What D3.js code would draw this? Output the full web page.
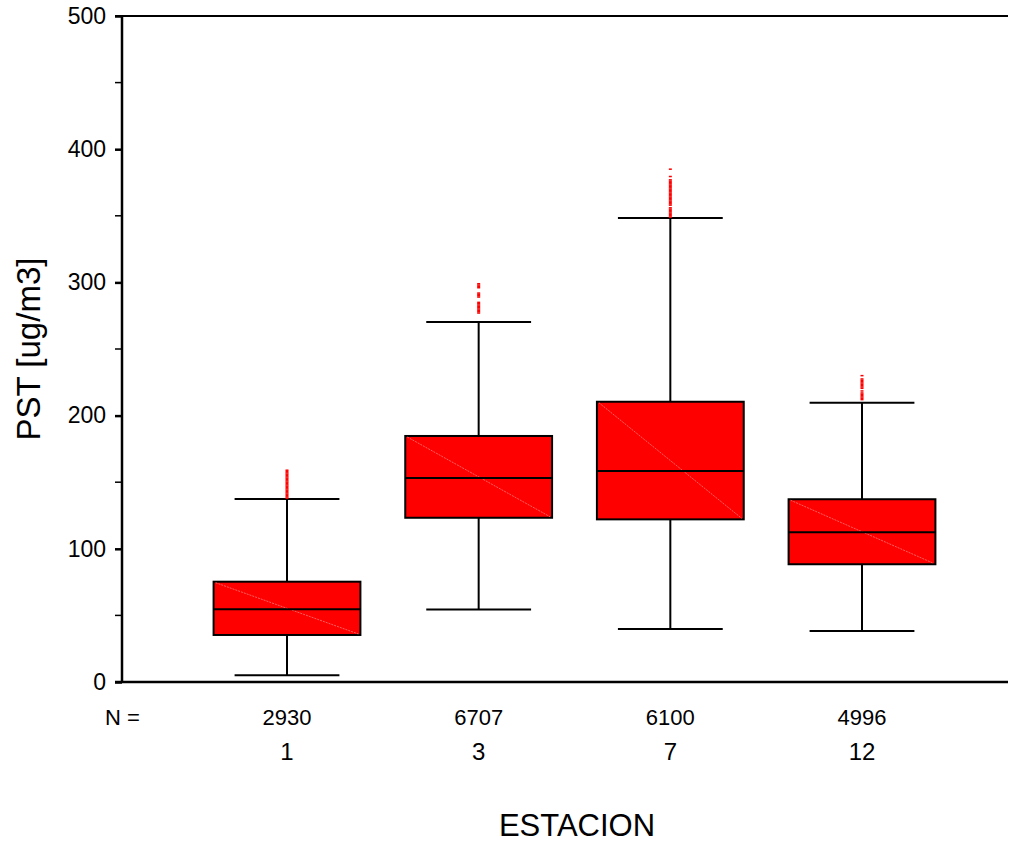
<!DOCTYPE html>
<html>
<head>
<meta charset="utf-8">
<script src="https://cdn.jsdelivr.net/npm/d3@7"></script>
<style>
  html, body { margin: 0; padding: 0; background: #fff; }
  svg { display: block; font-family: "Liberation Sans", Arial, sans-serif; }
</style>
</head>
<body>
<svg id="chart" width="1011" height="846"></svg>
<script>
// Stations and sample counts
const stations = ["1", "3", "7", "12"];
const counts = [2930, 6707, 6100, 4996];

// Box statistics per station (ug/m3)
const whiskerLow  = [5.0, 54.5, 39.8, 38.3];
const q1          = [35.3, 123.3, 122.1, 88.4];
const median      = [54.6, 153.2, 158.4, 112.4];
const q3          = [75.3, 184.7, 210.4, 137.2];
const whiskerHigh = [137.4, 270.3, 348.3, 209.7];

// Outlying observations above the upper whisker
const outliers1 = [138, 139, 140, 141, 142, 143, 144, 145, 146, 147, 148, 149, 150, 151, 152, 153, 154, 155, 156, 157, 158, 159];
const outliers3 = [277, 278, 279, 280, 281, 282, 283, 284, 285, 289, 290, 291, 292, 296, 297, 298, 299];
const outliers7 = [349, 350, 351, 352, 353, 354, 355, 356, 358, 359, 360, 361, 362, 363, 364, 365, 366, 367, 368, 369, 370, 371, 372, 373, 374, 375, 376, 377, 379.5, 385];
const outliers12 = [212, 213, 214, 215, 216, 217, 218.5, 220.5, 221.5, 222.5, 223.5, 224.5, 225.5, 226.5, 227.5, 230];
const outliers = [outliers1, outliers3, outliers7, outliers12];

const yTicks = [0, 100, 200, 300, 400, 500];
const yMinor = [50, 150, 250, 350, 450];

const svg = d3.select("#chart");

const plotLeft = 122, plotRight = 1008, plotTop = 16, plotBottom = 682;

const y = d3.scaleLinear().domain([0, 500]).range([plotBottom, plotTop]);
const x = d3.scalePoint().domain(stations).range([287, 862]);
const boxW = x.step() * 0.766;
const capW = boxW * 0.714;

const data = stations.map((s, i) => ({
  s, n: counts[i], lo: whiskerLow[i], q1: q1[i], med: median[i],
  q3: q3[i], hi: whiskerHigh[i], out: outliers[i]
}));

// Frame lines: top and bottom
svg.append("line").attr("x1", plotLeft - 7).attr("x2", plotRight)
  .attr("y1", plotTop).attr("y2", plotTop).attr("stroke", "#000").attr("stroke-width", 2);
svg.append("line").attr("x1", plotLeft - 7).attr("x2", plotRight)
  .attr("y1", plotBottom).attr("y2", plotBottom).attr("stroke", "#000").attr("stroke-width", 2.5);

// Left axis
const yAxis = d3.axisLeft(y).tickValues(yTicks).tickSize(7).tickPadding(9);
const gAxis = svg.append("g").attr("transform", `translate(${plotLeft},0)`).call(yAxis);
gAxis.attr("font-size", null).attr("font-family", null);
gAxis.select(".domain").attr("stroke-width", 2.5).attr("d", `M0,${plotTop}V${plotBottom}`);
gAxis.selectAll(".tick line").attr("stroke-width", 2.5);
gAxis.selectAll(".tick text").attr("font-size", 23).attr("fill", "#000");
svg.append("g").selectAll("line").data(yMinor).join("line")
  .attr("x1", plotLeft - 7).attr("x2", plotLeft)
  .attr("y1", d => y(d)).attr("y2", d => y(d))
  .attr("stroke", "#000").attr("stroke-width", 1.5);

const boxes = svg.append("g").selectAll("g").data(data).join("g");

// Whisker stems
boxes.append("line")
  .attr("x1", d => x(d.s)).attr("x2", d => x(d.s))
  .attr("y1", d => y(d.hi)).attr("y2", d => y(d.q3))
  .attr("stroke", "#000").attr("stroke-width", 2);
boxes.append("line")
  .attr("x1", d => x(d.s)).attr("x2", d => x(d.s))
  .attr("y1", d => y(d.q1)).attr("y2", d => y(d.lo))
  .attr("stroke", "#000").attr("stroke-width", 2);
// Whisker caps
boxes.append("line")
  .attr("x1", d => x(d.s) - capW / 2).attr("x2", d => x(d.s) + capW / 2)
  .attr("y1", d => y(d.hi)).attr("y2", d => y(d.hi))
  .attr("stroke", "#000").attr("stroke-width", 2);
boxes.append("line")
  .attr("x1", d => x(d.s) - capW / 2).attr("x2", d => x(d.s) + capW / 2)
  .attr("y1", d => y(d.lo)).attr("y2", d => y(d.lo))
  .attr("stroke", "#000").attr("stroke-width", 2);

// Boxes
boxes.append("rect")
  .attr("x", d => x(d.s) - boxW / 2).attr("width", boxW)
  .attr("y", d => y(d.q3)).attr("height", d => y(d.q1) - y(d.q3))
  .attr("fill", "#ff0000").attr("stroke", "#000").attr("stroke-width", 2);
// Faint diagonal inside each box
boxes.append("line")
  .attr("x1", d => x(d.s) - boxW / 2 + 2).attr("y1", d => y(d.q3) + 1)
  .attr("x2", d => x(d.s) + boxW / 2 - 2).attr("y2", d => y(d.q1) - 1)
  .attr("stroke", "#ff8a8a").attr("stroke-width", 0.7)
  .attr("stroke-dasharray", "2,1");
// Medians
boxes.append("line")
  .attr("x1", d => x(d.s) - boxW / 2).attr("x2", d => x(d.s) + boxW / 2)
  .attr("y1", d => y(d.med)).attr("y2", d => y(d.med))
  .attr("stroke", "#000").attr("stroke-width", 2);

// Outliers
boxes.each(function (d) {
  d3.select(this).selectAll("rect.out").data(d.out).join("rect")
    .attr("class", "out")
    .attr("x", x(d.s) - 1.5).attr("width", 3)
    .attr("y", v => y(v) - 0.75).attr("height", 1.5)
    .attr("fill", "#ff0000");
});

// Sample sizes
svg.append("text").attr("x", 105).attr("y", 717).attr("dy", "0.35em")
  .attr("font-size", 22).text("N =");
svg.append("g").selectAll("text").data(data).join("text")
  .attr("x", d => x(d.s)).attr("y", 717).attr("dy", "0.35em")
  .attr("text-anchor", "middle").attr("font-size", 22).text(d => d.n);

// Category labels
svg.append("g").selectAll("text").data(data).join("text")
  .attr("x", d => x(d.s)).attr("y", 752).attr("dy", "0.35em")
  .attr("text-anchor", "middle").attr("font-size", 24).text(d => d.s);

// Axis titles
svg.append("text").attr("x", 577).attr("y", 836)
  .attr("text-anchor", "middle").attr("font-size", 31).text("ESTACION");
svg.append("text").attr("transform", "translate(28,349) rotate(-90)")
  .attr("dy", "0.35em").attr("text-anchor", "middle").attr("font-size", 33)
  .text("PST [ug/m3]");
</script>
</body>
</html>
